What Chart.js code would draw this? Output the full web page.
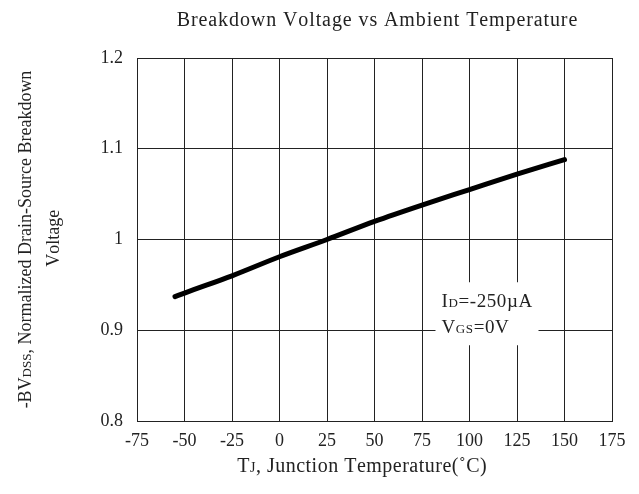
<!DOCTYPE html>
<html>
<head>
<meta charset="utf-8">
<script src="https://cdn.jsdelivr.net/npm/chart.js@4/dist/chart.umd.min.js"></script>
<style>
  html, body { margin: 0; padding: 0; background: #fff; }
  #wrap { width: 639px; height: 494px; }
</style>
</head>
<body>
<div id="wrap"><canvas id="chart"></canvas></div>
<script>
// Breakdown voltage vs ambient temperature
const temps = [-55, -50, -25, 0, 25, 50, 75, 100, 125, 150];
const bvdss = [0.937, 0.941, 0.960, 0.981, 1.000, 1.020, 1.038, 1.055, 1.072, 1.088];

const xTicks = [-75, -50, -25, 0, 25, 50, 75, 100, 125, 150, 175];
const yTicks = [0.8, 0.9, 1.0, 1.1, 1.2];

const FONT = "'Liberation Serif', 'DejaVu Serif', serif";
const INK = '#222';

// draw a row of text runs [text, size] from x (or centred on x) at baseline y
function drawRuns(ctx, runs, x, y, align, spacing) {
  spacing = spacing || 0;
  const widthOf = r => {
    ctx.font = r[1] + 'px ' + FONT;
    return ctx.measureText(r[0]).width + spacing * r[0].length;
  };
  const total = runs.reduce((s, r) => s + widthOf(r), 0);
  let cx = align === 'center' ? x - total / 2 : x;
  ctx.textAlign = 'left';
  ctx.textBaseline = 'alphabetic';
  runs.forEach(r => {
    ctx.font = r[1] + 'px ' + FONT;
    for (const ch of r[0]) {
      ctx.fillText(ch, cx, y);
      cx += ctx.measureText(ch).width + spacing;
    }
  });
}

const extras = {
  id: 'extras',
  afterDatasetsDraw(chart) {
    const { ctx, chartArea, scales } = chart;
    const midX = (chartArea.left + chartArea.right) / 2;
    ctx.save();

    // condition box, anchored to the data scales
    const bx = scales.x.getPixelForValue(100) - 34;
    const by = scales.y.getPixelForValue(0.9) - 48;
    ctx.fillStyle = '#fff';
    ctx.fillRect(bx, by, 103, 63);
    ctx.fillStyle = INK;
    drawRuns(ctx, [['I', 19], ['D', 13], ['=-250µA', 19]], bx + 6, by + 25, 'left', 0.6);
    drawRuns(ctx, [['V', 19], ['GS', 13], ['=0V', 19]], bx + 6, by + 51, 'left', 0.6);

    // chart title
    drawRuns(ctx, [['Breakdown Voltage vs Ambient Temperature', 20]], midX + 1, 26, 'center', 0.9);

    // x axis title
    drawRuns(ctx, [['T', 20], ['J', 14], [', Junction Temperature(˚C)', 20]], midX - 13, 472, 'center', 0.5);

    // y axis title, rotated
    const midY = (chartArea.top + chartArea.bottom) / 2;
    ctx.translate(0, midY);
    ctx.rotate(-Math.PI / 2);
    drawRuns(ctx, [['-BV', 18], ['DSS', 13], [', Normalized Drain-Source Breakdown', 18]], 0, 31, 'center');
    drawRuns(ctx, [['Voltage', 18]], 0, 59, 'center');
    ctx.restore();
  }
};

new Chart(document.getElementById('chart'), {
  type: 'scatter',
  data: {
    datasets: [{
      data: temps.map((t, i) => ({ x: t, y: bvdss[i] })),
      showLine: true,
      borderColor: '#000',
      borderWidth: 5,
      pointRadius: 0,
      cubicInterpolationMode: 'monotone',
      borderCapStyle: 'round'
    }]
  },
  options: {
    responsive: true,
    maintainAspectRatio: false,
    animation: false,
    layout: { padding: { top: 58, right: 27, bottom: 0, left: 0 } },
    plugins: {
      legend: { display: false },
      tooltip: { enabled: false },
      title: { display: false }
    },
    scales: {
      x: {
        type: 'linear',
        min: -75, max: 175,
        afterBuildTicks: s => { s.ticks = xTicks.map(v => ({ value: v })); },
        afterFit: s => { s.height = 73; },
        grid: { color: INK, lineWidth: 1, drawTicks: false },
        border: { color: INK, width: 1 },
        ticks: { color: INK, padding: 9, font: { family: FONT, size: 18 }, maxRotation: 0 }
      },
      y: {
        min: 0.8, max: 1.2,
        afterBuildTicks: s => { s.ticks = yTicks.map(v => ({ value: v })); },
        afterFit: s => { s.width = 137; },
        grid: { color: INK, lineWidth: 1, drawTicks: false },
        border: { color: INK, width: 1 },
        ticks: { color: INK, padding: 14, font: { family: FONT, size: 18 }, callback: v => String(+v.toFixed(1)) }
      }
    }
  },
  plugins: [extras]
});
</script>
</body>
</html>
